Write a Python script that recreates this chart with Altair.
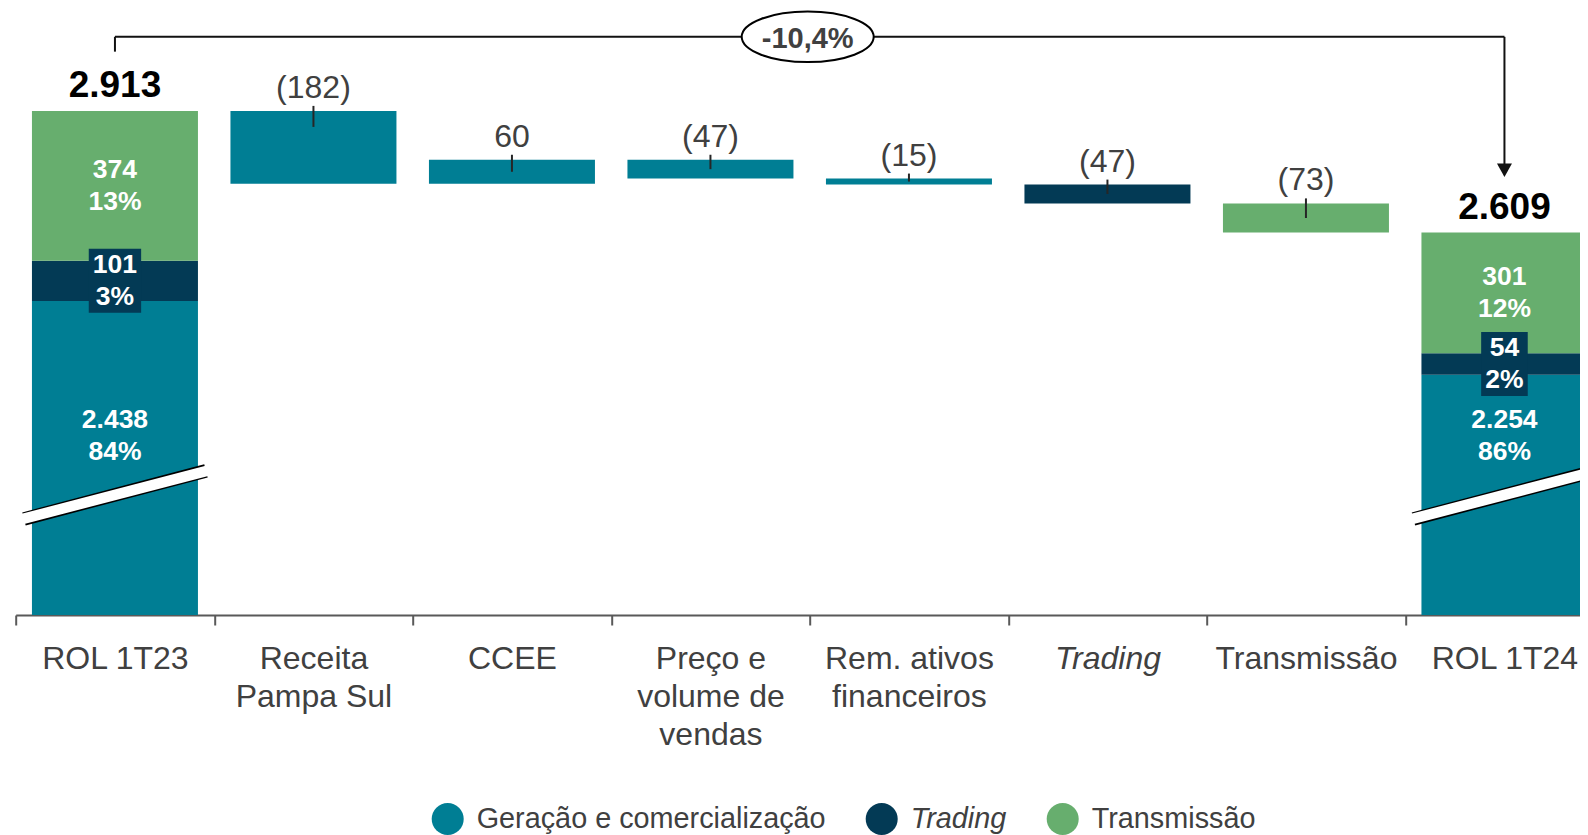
import altair as alt
import pandas as pd

FONT = "Liberation Sans"
GRAY_TEXT = "#404040"

# ---------------- data ----------------
categories = ["ROL 1T23", "Receita\nPampa Sul", "CCEE", "Preço e\nvolume de\nvendas",
              "Rem. ativos\nfinanceiros", "Trading", "Transmissão", "ROL 1T24"]
segments = ["Geração e comercialização", "Trading", "Transmissão"]
seg_colors = ["#007E94", "#033A55", "#67AE6E"]

start_values = [2438, 101, 374]
start_pcts = [84, 3, 13]
end_values = [2254, 54, 301]
end_pcts = [86, 2, 12]
deltas = [-182, 60, -47, -15, -47, -73]
delta_segments = [segments[0], segments[0], segments[0], segments[0], segments[1], segments[2]]
variation_text = "-10,4%"

# ---------------- layout constants ----------------
Y_MIN, Y_MAX = 1654, 3170          # truncated value axis (broken axis)
PLOT_W, PLOT_H = 1588, 607
PAD_L = 7.7
PAD_R = 1572 - PAD_L - PLOT_W      # negative: the last bar runs off the page edge, as in the original
STEP = PLOT_W / len(categories)
BAR_FRAC = 166 / STEP
PX = PLOT_H / (Y_MAX - Y_MIN)      # pixels per unit
GER_LABEL_Y = 2100                 # label position inside the truncated segment
BREAK_LO, BREAK_HI = 1894, 2014    # axis-break symbol ends
LINE_H = 32


def fmt(v):
    return f"{v:,}".replace(",", ".")


# bars
bar_rows = []
base = 0
for s, v in zip(segments, start_values):
    bar_rows.append(dict(cat=categories[0], seg=s, y0=base, y1=base + v))
    base += v
total_start = base
running = total_start
delta_rows = []
for c, d, s in zip(categories[1:-1], deltas, delta_segments):
    bar_rows.append(dict(cat=c, seg=s, y0=running, y1=running + d))
    top = max(running, running + d)
    h = abs(d)
    lab = f"({fmt(-d)})" if d < 0 else fmt(d)
    delta_rows.append(dict(cat=c, top=top, text=lab,
                           t0=top + 5 / PX, t1=top - min(16 / PX, h / 2)))
    running += d
total_end = running
base = 0
for s, v in zip(segments, end_values):
    bar_rows.append(dict(cat=categories[-1], seg=s, y0=base, y1=base + v))
    base += v
df_bars = pd.DataFrame(bar_rows)
df_delta = pd.DataFrame(delta_rows)

# segment labels in total bars
seg_label_rows = []
box_rows = []


def bold_w(t, fs=26):
    return sum((0.889 if ch == "%" else 0.556) for ch in t) * fs


for cat, vals, pcts in [(categories[0], start_values, start_pcts),
                        (categories[-1], end_values, end_pcts)]:
    b = 0
    for i, (v, p) in enumerate(zip(vals, pcts)):
        mid = GER_LABEL_Y if i == 0 else b + v / 2
        txt = f"{fmt(v)}\n{p}%"
        seg_label_rows.append(dict(cat=cat, y=mid, text=txt))
        if i == 1:
            w = max(bold_w(fmt(v)), bold_w(f"{p}%")) + 9
            box_rows.append(dict(cat=cat, y=mid, w=w))
        b += v
df_seg_labels = pd.DataFrame(seg_label_rows)

df_totals = pd.DataFrame(dict(cat=[categories[0], categories[-1]],
                              y=[total_start, total_end],
                              text=[fmt(total_start), fmt(total_end)]))
df_break = pd.DataFrame(dict(cat=[categories[0], categories[-1]],
                             b0=[BREAK_LO, BREAK_LO], b1=[BREAK_HI, BREAK_HI]))

BRACKET_Y = total_start + 185
LEFT_LEG_END = total_start + 148
ARROW_Y = total_end + 156
df_bracket = pd.DataFrame(dict(cat=[categories[0]], cat2=[categories[-1]], y=[BRACKET_Y],
                               text=[variation_text]))
df_legs = pd.DataFrame(dict(cat=[categories[0], categories[-1]],
                            y=[BRACKET_Y, BRACKET_Y], y2=[LEFT_LEG_END, ARROW_Y]))
df_arrow = pd.DataFrame(dict(cat=[categories[-1]], y=[ARROW_Y]))

# ---------------- encodings ----------------
x_scale = alt.Scale(domain=categories, paddingInner=0, paddingOuter=0)
x_axis = alt.Axis(title=None, labelAngle=0, labelFont=FONT, labelFontSize=32, labelColor=GRAY_TEXT,
                  labelPadding=18, labelLineHeight=38, labelExpr="split(datum.label, '\\n')",
                  labelBaseline="top", labelLimit=0, labelOverlap=False,
                  domainColor="#595959", domainWidth=2, tickColor="#595959", tickWidth=2,
                  tickSize=10, tickBand="extent", grid=False,
                  labelFontStyle={"condition": {"test": "datum.value == 'Trading'", "value": "italic"},
                                  "value": "normal"})
y_scale = alt.Scale(domain=[Y_MIN, Y_MAX], nice=False, zero=False)


def X(field="cat", center=False):
    if center:
        return alt.X(f"{field}:N", sort=categories, scale=x_scale, axis=x_axis, bandPosition=0.5)
    return alt.X(f"{field}:N", sort=categories, scale=x_scale, axis=x_axis)


def Y(field):
    return alt.Y(f"{field}:Q", scale=y_scale, axis=None)


color = alt.Color("seg:N", scale=alt.Scale(domain=segments, range=seg_colors),
                  legend=alt.Legend(title=None, orient="none", legendX=416, legendY=795,
                                    direction="horizontal", symbolType="circle", symbolSize=1024,
                                    symbolStrokeWidth=0, symbolOpacity=1,
                                    labelFont=FONT, labelFontSize=28.8, labelColor=GRAY_TEXT,
                                    labelOffset=13, columnPadding=40, padding=0, labelLimit=0,
                                    labelFontStyle=alt.ExprRef("datum.label == 'Trading' ? 'italic' : 'normal'")))

bars = alt.Chart(df_bars).mark_bar(clip=True, width=alt.RelativeBandSize(BAR_FRAC)).encode(
    x=X(), y=Y("y0"), y2="y1", color=color)

break_black = alt.Chart(df_break).mark_rule(color="black", strokeWidth=13.5, strokeCap="butt",
                                            xOffset=-91, x2Offset=91).encode(
    x=X(center=True), x2=alt.X2("cat:N", bandPosition=0.5), y=Y("b0"), y2="b1")
break_white = alt.Chart(df_break).mark_rule(color="white", strokeWidth=10.5, strokeCap="butt",
                                            xOffset=-92, x2Offset=92).encode(
    x=X(center=True), x2=alt.X2("cat:N", bandPosition=0.5), y=Y("b0"), y2="b1")

box_layers = []
for r in box_rows:
    hw = (r["w"] / 2) / 32
    path = f"M{-hw:.4f},-1H{hw:.4f}V1H{-hw:.4f}Z"
    box_layers.append(
        alt.Chart(pd.DataFrame([r])).mark_point(shape=path, size=64 * 64, filled=True,
                                                color=seg_colors[1], opacity=1, strokeWidth=0)
        .encode(x=X(center=True), y=Y("y")))

seg_labels = alt.Chart(df_seg_labels).mark_text(
    font=FONT, fontSize=26.5, fontWeight="bold", color="white", lineBreak="\n", lineHeight=LINE_H,
    baseline="middle", align="center", dy=-LINE_H / 2).encode(
    x=X(center=True), y=Y("y"), text="text:N")

delta_ticks = alt.Chart(df_delta).mark_rule(color="#262626", strokeWidth=2).encode(
    x=X(center=True), y=Y("t0"), y2="t1")
delta_labels = alt.Chart(df_delta).mark_text(
    font=FONT, fontSize=32, color=GRAY_TEXT, baseline="alphabetic", align="center", dy=-13).encode(
    x=X(center=True), y=Y("top"), text="text:N")

total_labels = alt.Chart(df_totals).mark_text(
    font=FONT, fontSize=37, fontWeight="bold", color="black", baseline="alphabetic",
    align="center", dy=-14).encode(x=X(center=True), y=Y("y"), text="text:N")

bracket_h = alt.Chart(df_bracket).mark_rule(color="#111111", strokeWidth=2).encode(
    x=X(center=True), x2=alt.X2("cat2:N", bandPosition=0.5), y=Y("y"))
bracket_legs = alt.Chart(df_legs).mark_rule(color="#111111", strokeWidth=2).encode(
    x=X(center=True), y=Y("y"), y2="y2")
arrow = alt.Chart(df_arrow).mark_point(shape="M-1,-0.9L1,-0.9L0,0.9Z", size=225, filled=True,
                                       color="#111111", opacity=1).encode(
    x=X(center=True), y=Y("y"))

ell_path = "M-1,0A1,0.383 0 1,1 1,0A1,0.383 0 1,1 -1,0Z"
ellipse = alt.Chart(df_bracket).mark_point(shape=ell_path, size=132 * 132, filled=False,
                                           fill="white", stroke="black", strokeWidth=2,
                                           opacity=1, fillOpacity=1,
                                           xOffset=3.5 * STEP - 2).encode(
    x=X(center=True), y=Y("y"))
ell_text = alt.Chart(df_bracket).mark_text(font=FONT, fontSize=29, fontWeight="bold",
                                           color=GRAY_TEXT, baseline="middle", align="center",
                                           dx=3.5 * STEP - 2, dy=2).encode(
    x=X(center=True), y=Y("y"), text="text:N")

chart = alt.layer(
    bars, break_black, break_white, *box_layers, seg_labels, delta_ticks, delta_labels,
    total_labels, bracket_h, bracket_legs, arrow, ellipse, ell_text
).properties(
    width=PLOT_W, height=PLOT_H,
    autosize=alt.AutoSizeParams(type="none"),
    padding={"left": PAD_L, "top": 0, "right": PAD_R, "bottom": 220},
    background="white",
).configure_view(stroke=None)

chart.save("out.html", embed_options={"renderer": "svg", "actions": False})
